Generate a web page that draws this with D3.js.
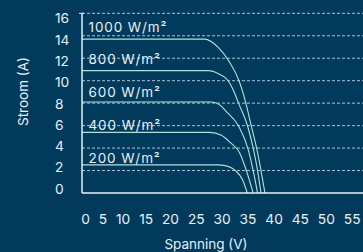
<!DOCTYPE html>
<html>
<head>
<meta charset="utf-8">
<script src="https://cdn.jsdelivr.net/npm/d3@7"></script>
<style>
  html, body { margin: 0; padding: 0; background: #023a5c; }
  svg { display: block; }
  text { font-family: Inter, "DejaVu Sans", sans-serif; fill: #e9f0f4; }
</style>
</head>
<body>
<div id="chart"></div>
<script>
var width = 363, height = 252;

// tick labels
var yTicks = [0, 2, 4, 6, 8, 10, 12, 14, 16];
var xTicks = [0, 5, 10, 15, 20, 25, 30, 35, 40, 45, 50, 55];

// irradiance levels and the I-V curve (voltage V, current A)
var levels = [1000, 800, 600, 400, 200];
var volts1000 = [0, 25, 28, 30.1, 32.1, 33, 33.5, 34.6, 35.7, 36.6, 37.4];
var amps1000  = [13.7, 13.7, 12.9, 11.7, 10.0, 8.8, 8.0, 6.0, 4.0, 2.0, 0];
var volts800 = [0, 25.8, 28, 29.9, 31, 32, 33.9, 35, 35.9, 36.6];
var amps800  = [10.9, 10.9, 10.6, 10.0, 9.1, 8.0, 5.9, 4.0, 2.0, 0];
var volts600 = [0, 26.5, 28.3, 29.4, 32.1, 33.9, 35, 35.9];
var amps600  = [8.1, 8.1, 7.8, 7.3, 5.9, 4.0, 2.0, 0];
var volts400 = [0, 26.2, 28.5, 30.3, 32.2, 33.6, 35];
var amps400  = [5.4, 5.4, 5.15, 4.5, 3.6, 2.0, 0];
var volts200 = [0, 28, 30, 31.5, 32.8, 33.8];
var amps200  = [2.5, 2.5, 2.35, 1.95, 1.2, 0];

var curves = [
  {level: 1000, v: volts1000, i: amps1000},
  {level: 800, v: volts800, i: amps800},
  {level: 600, v: volts600, i: amps600},
  {level: 400, v: volts400, i: amps400},
  {level: 200, v: volts200, i: amps200}
];

var x = d3.scaleLinear().domain([0, 55]).range([82, 351]);
var y = d3.scaleLinear().domain([0, 16]).range([193, 13.3]);
// tick label baselines sit a little apart from the grid in the original
var yLabel = d3.scaleLinear().domain([0, 16]).range([193.7, 23.3]);
var levelLabel = d3.scaleLinear().domain([200, 1000]).range([162.8, 31.7]);

var svg = d3.select("#chart").append("svg")
  .attr("width", width).attr("height", height);

svg.append("rect").attr("width", width).attr("height", height).attr("fill", "#023a5c");

// dashed grid
svg.append("g").selectAll("line")
  .data(yTicks.filter(function(d) { return d > 0; }))
  .enter().append("line")
  .attr("x1", 82).attr("x2", width)
  .attr("y1", function(d) { return y(d); })
  .attr("y2", function(d) { return y(d); })
  .attr("stroke", "#aac3d0")
  .attr("stroke-width", 1)
  .attr("stroke-dasharray", "3,2");

// little tick at the top of the axis
svg.append("line")
  .attr("x1", 79).attr("x2", 84)
  .attr("y1", y(16)).attr("y2", y(16))
  .attr("stroke", "#e9f0f4").attr("stroke-width", 1);

// curves
var line = d3.line()
  .x(function(d) { return x(d[0]); })
  .y(function(d) { return y(d[1]); })
  .curve(d3.curveMonotoneX);

svg.append("g").selectAll("path")
  .data(curves)
  .enter().append("path")
  .attr("d", function(c) { return line(d3.zip(c.v, c.i)); })
  .attr("fill", "none")
  .attr("stroke", "#b0e0dc")
  .attr("stroke-width", 1.1);

// axes
svg.append("line")
  .attr("x1", 82).attr("x2", 82).attr("y1", y(16)).attr("y2", y(0))
  .attr("stroke", "#e9f0f4").attr("stroke-width", 1.5);
svg.append("line")
  .attr("x1", 82).attr("x2", width).attr("y1", y(0)).attr("y2", y(0))
  .attr("stroke", "#e9f0f4").attr("stroke-width", 1.5);

// irradiance labels
svg.append("g").selectAll("text")
  .data(levels)
  .enter().append("text")
  .attr("x", 88.5)
  .attr("y", function(d) { return levelLabel(d); })
  .style("font-size", "13.5px")
  .style("letter-spacing", "0.9px")
  .text(function(d) { return d + " W/m²"; });

// y tick labels
svg.append("g").selectAll("text")
  .data(yTicks)
  .enter().append("text")
  .attr("x", 55)
  .attr("y", function(d) { return yLabel(d); })
  .style("font-size", "13.75px")
  .text(function(d) { return d; });

// x tick labels, laid out in a row like the original
var xl = svg.append("g").selectAll("text")
  .data(xTicks)
  .enter().append("text")
  .attr("y", 223.5)
  .style("font-size", "13.75px")
  .text(function(d) { return d; });
var widths = [];
xl.each(function() { widths.push(this.getComputedTextLength()); });
var gap = (360.5 - 81.2 - d3.sum(widths)) / (xTicks.length - 1);
var pos = 81.2;
xl.attr("x", function(d, k) { var p = pos; pos += widths[k] + gap; return p; });

// axis titles
svg.append("text")
  .attr("transform", "translate(27.5,91.5) rotate(-90)")
  .attr("text-anchor", "middle")
  .style("font-size", "13.5px")
  .text("Stroom (A)");

svg.append("text")
  .attr("x", 206).attr("y", 248.5)
  .attr("text-anchor", "middle")
  .style("font-size", "13.5px")
  .text("Spanning (V)");
</script>
</body>
</html>
